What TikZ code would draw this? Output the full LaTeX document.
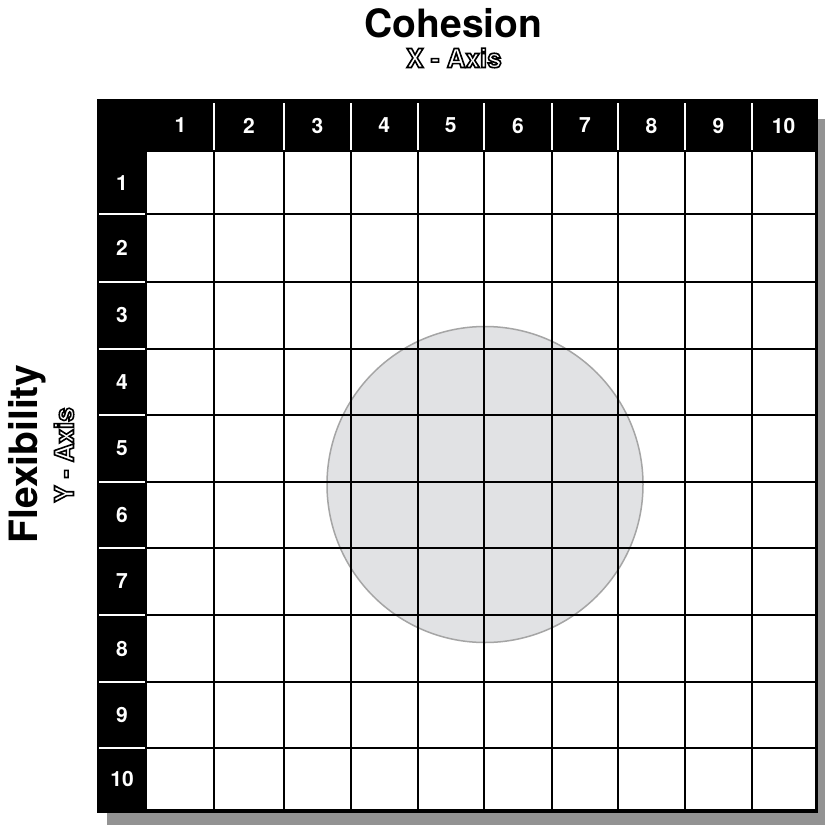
\documentclass[tikz,border=0pt]{standalone}
\usepackage{fontspec}
\setsansfont{TeX Gyre Heros}
\definecolor{shadowgray}{HTML}{939393}
\definecolor{blobfill}{HTML}{E1E2E4}
\definecolor{blobline}{HTML}{A5A5A5}
% white letters with a black outline (text render mode 2)
\newcommand{\hollow}[1]{\textcolor{white}{\special{pdf:literal direct q 0 G 1.6 w 2 Tr}#1\special{pdf:literal direct Q}}}

\begin{document}
\begin{tikzpicture}[
  x=1pt, y=-1pt,
  axistitle/.style={font=\sffamily\bfseries\fontsize{39}{39}\selectfont},
  axisname/.style={font=\sffamily\bfseries\fontsize{26}{26}\selectfont},
  cellnum/.style={font=\sffamily\bfseries\fontsize{21}{21}\selectfont, text=white},
  gridline/.style={black, line width=2pt},
  sepline/.style={white, line width=2pt}
]
\useasboundingbox (0,0) rectangle (825,825);

% shadow, frame and white field
\fill[shadowgray] (107,119) rectangle (825,825);
\fill[black] (97,99) rectangle (818,813);
\fill[white] (147,151.5) rectangle (815,809);

% the circle sits under the grid
\filldraw[fill=blobfill, draw=blobline, line width=1.5pt] (485,484.5) circle (158pt);

% columns
\foreach \a/\b [count=\i] in {147/214, 214/284, 284/351, 351/417.5, 417.5/484,
    484/552, 552/618, 618/685, 685/752, 752/815} {
  \node[cellnum] (col\i) at ({(\a+\b)/2},125.5) {\i};
  \ifnum\i>1
    \draw[gridline] (\a,151.5) -- (\a,809);
    \draw[sepline] (\a,103) -- (\a,150);
  \fi
}

% rows
\foreach \a/\b [count=\i] in {151.5/214, 214/281.5, 281.5/348.5, 348.5/415, 415/481.5,
    481.5/548, 548/615, 615/682, 682/748, 748/809} {
  \node[cellnum] (row\i) at (122,{(\a+\b)/2}) {\i};
  \ifnum\i>1
    \draw[gridline] (147,\a) -- (815,\a);
    \draw[sepline] (99,\a) -- (145,\a);
  \fi
}

% axis titles
\node[axistitle, anchor=base] (cohesion) at (453.5,37) {Cohesion};
\node[axisname, anchor=base] (xaxis) at (454,67.5) {\hollow{X - Axis}};
\node[axistitle, anchor=base, rotate=90] (flexibility) at (37,454) {Flexibility};
\node[axisname, anchor=base, rotate=90] (yaxis) at (73.5,455) {\hollow{Y - Axis}};
\end{tikzpicture}
\end{document}
